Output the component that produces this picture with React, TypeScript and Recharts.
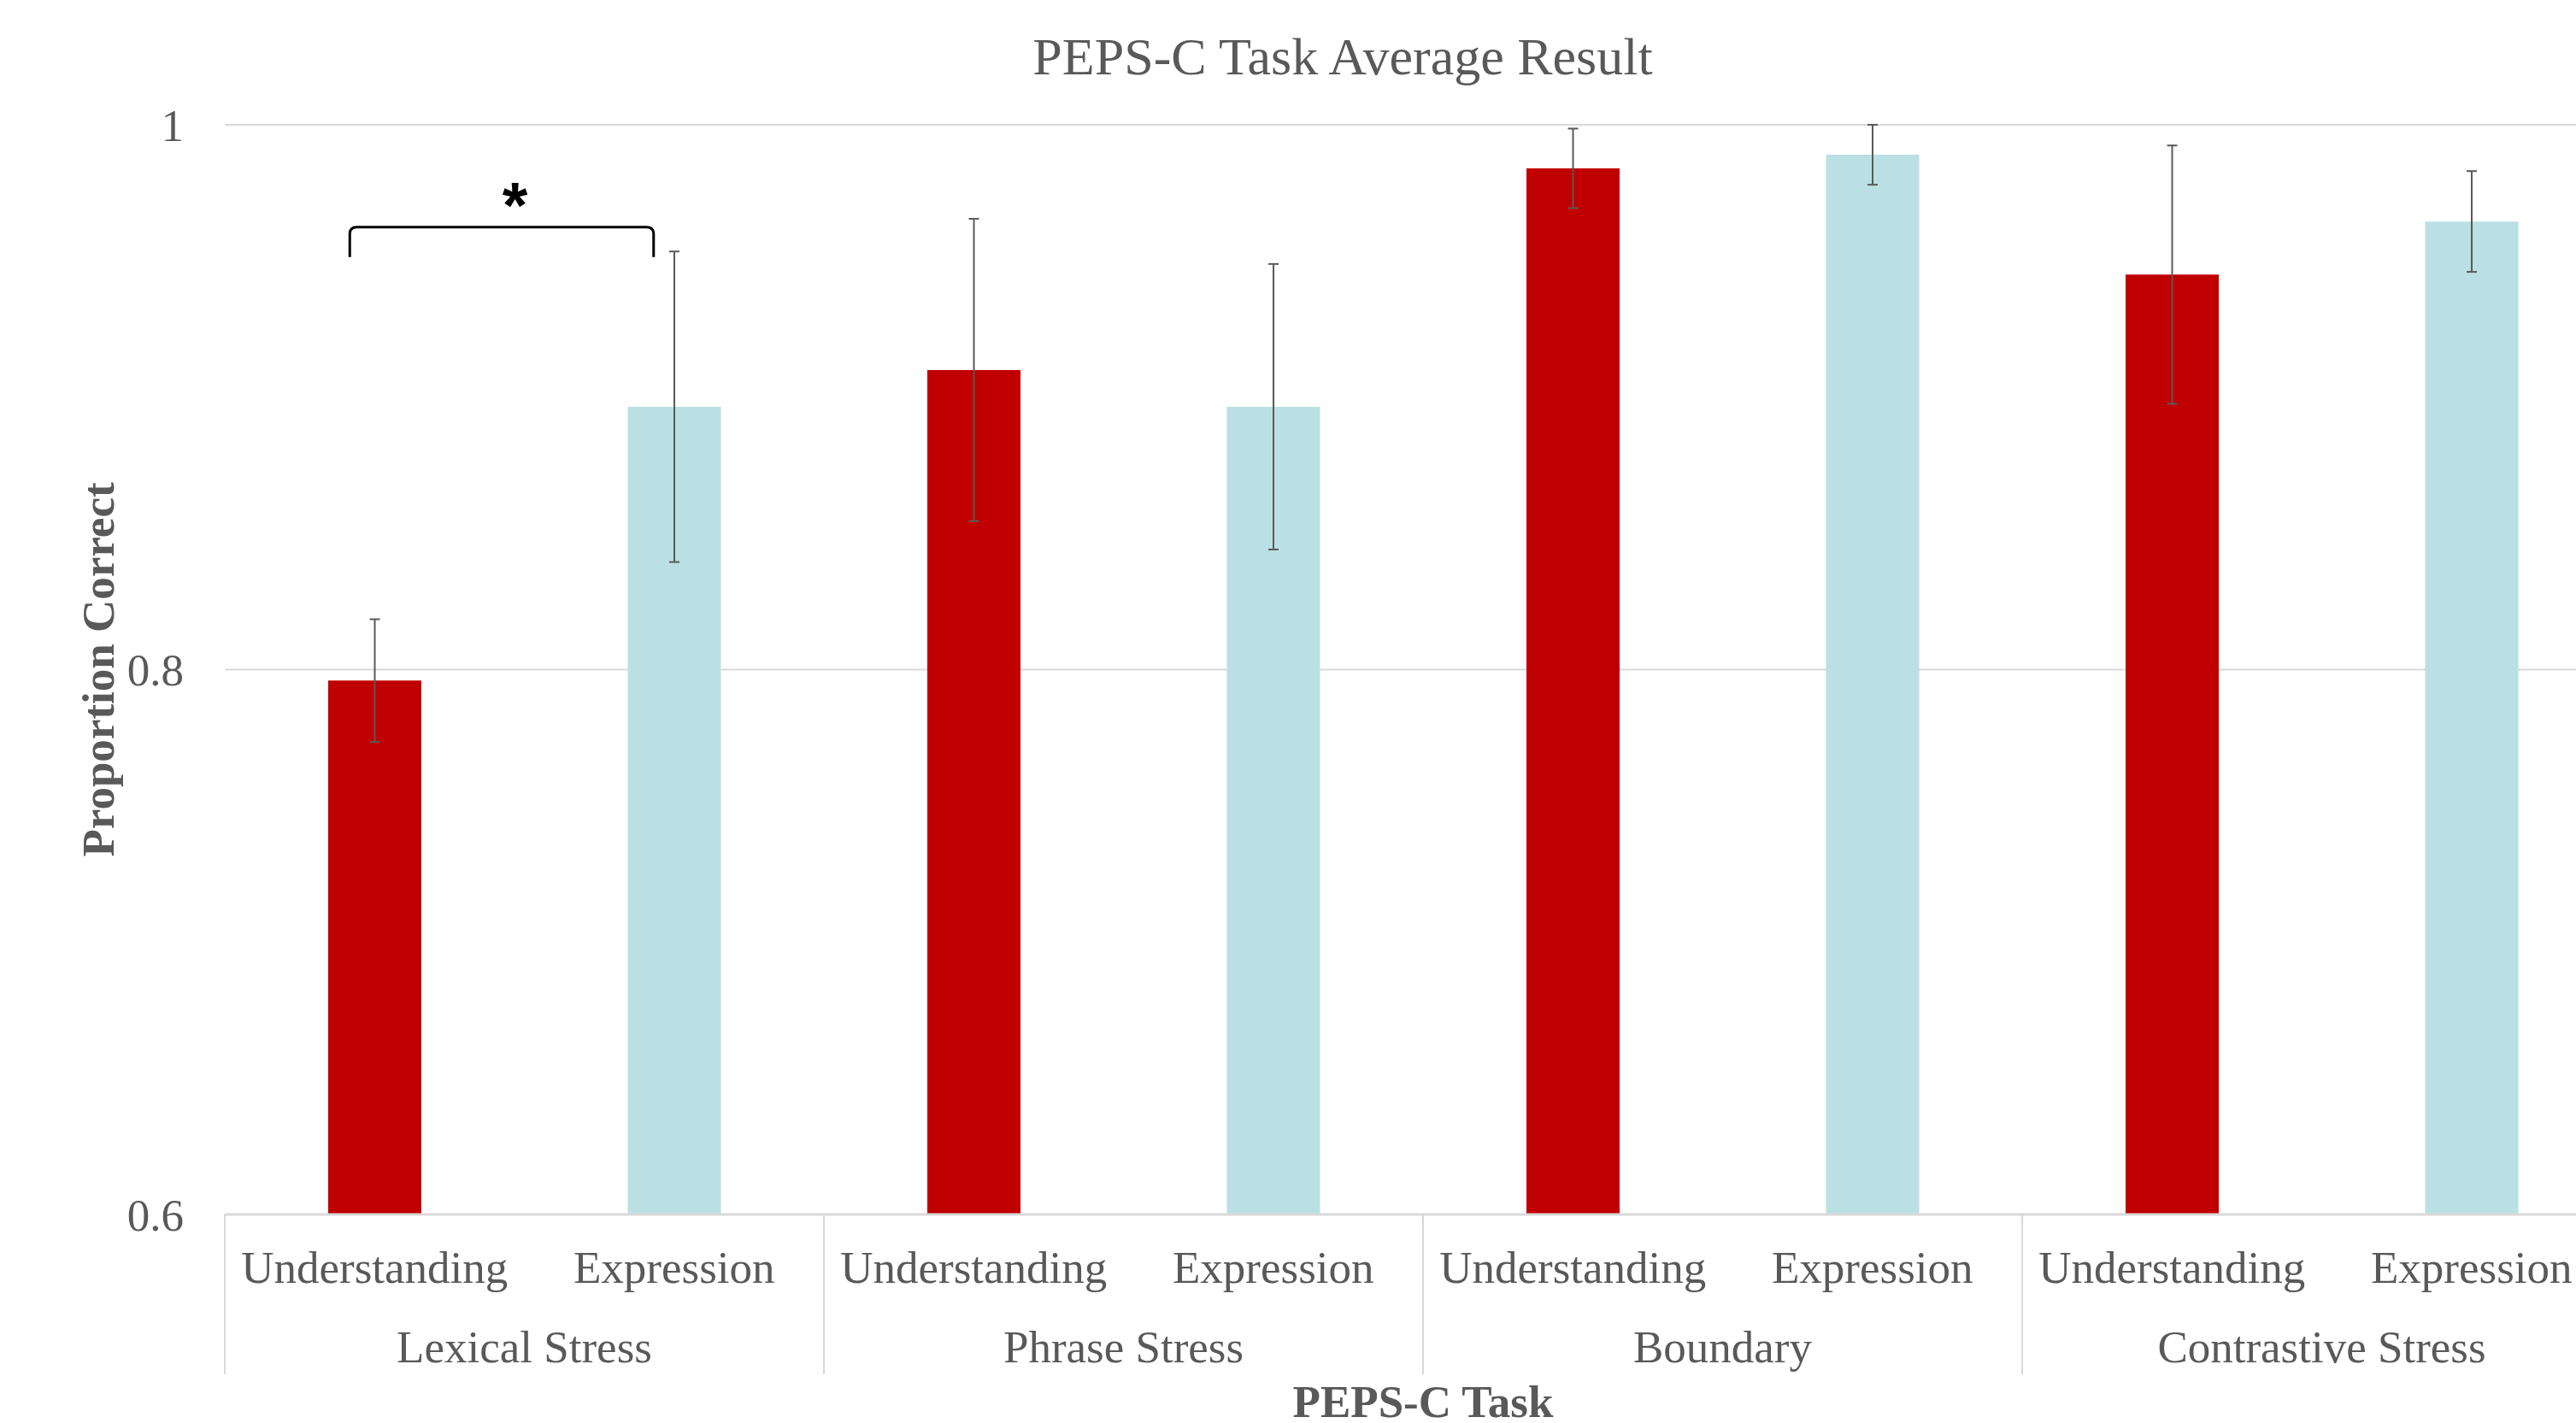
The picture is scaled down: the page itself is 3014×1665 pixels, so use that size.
import React from 'react';
import {
  BarChart,
  Bar,
  Cell,
  XAxis,
  YAxis,
  CartesianGrid,
  ErrorBar,
  ReferenceLine,
} from 'recharts';

const tasks = ['Lexical Stress', 'Phrase Stress', 'Boundary', 'Contrastive Stress'];
const conditions = ['Understanding', 'Expression'];
const understandingMeans = [0.796, 0.91, 0.984, 0.945];
const understandingErrors = [0.0225, 0.0555, 0.0146, 0.0474];
const expressionMeans = [0.8965, 0.8965, 0.989, 0.9645];
const expressionErrors = [0.057, 0.0524, 0.011, 0.0185];
const yTicks = [0.6, 0.8, 1];
const conditionColors = ['#C00000', '#BAE0E3'];

// significance bracket between the two Lexical Stress bars
const bracketLevel = 0.9624;
const bracketLabel = '*';

const data = tasks.flatMap((task, i) => [
  { key: `${task}|${conditions[0]}`, task, condition: conditions[0], value: understandingMeans[i], err: understandingErrors[i] },
  { key: `${task}|${conditions[1]}`, task, condition: conditions[1], value: expressionMeans[i], err: expressionErrors[i] },
]);

const FONT = '"Liberation Serif", "Times New Roman", serif';
const GREY = '#595959';

const CategoryTick = (props: any) => {
  const { x, y, payload, index } = props;
  const row = data[index] || data.find((d) => d.key === payload.value);
  const half = payload.offset ?? 175;
  const isFirst = row.condition === conditions[0];
  const isLast = index === data.length - 1;
  return (
    <g>
      <text x={x} y={y + 80} textAnchor="middle" fill={GREY} fontSize={53} fontFamily={FONT}>
        {row.condition}
      </text>
      {isFirst && (
        <>
          <line x1={x - half} y1={y} x2={x - half} y2={y + 187} stroke="#d9d9d9" strokeWidth={2} />
          <text x={x + half} y={y + 173} textAnchor="middle" fill={GREY} fontSize={53} fontFamily={FONT}>
            {row.task}
          </text>
        </>
      )}
      {isLast && <line x1={x + half} y1={y} x2={x + half} y2={y + 187} stroke="#d9d9d9" strokeWidth={2} />}
    </g>
  );
};

const Bracket = (props: any) => {
  const { x1, y1, x2 } = props;
  const xa = x1 - 29;
  const xb = x2 - 24;
  const drop = 35;
  const r = 8;
  const d = `M${xa},${y1 + drop} L${xa},${y1 + r} Q${xa},${y1} ${xa + r},${y1} L${xb - r},${y1} Q${xb},${y1} ${xb},${y1 + r} L${xb},${y1 + drop}`;
  return (
    <g>
      <path d={d} fill="none" stroke="#000" strokeWidth={3} />
      <text
        x={(x1 + x2) / 2 - 11}
        y={y1 - 26}
        textAnchor="middle"
        dominantBaseline="central"
        fontSize={76}
        fontWeight="bold"
        fontFamily='"Liberation Sans", Arial, sans-serif'
        fill="#000"
      >
        {bracketLabel}
      </text>
    </g>
  );
};

export default function App() {
  return (
    <div style={{ position: 'fixed', left: 0, top: 0, width: 3014, height: 1665, overflow: 'hidden', background: '#fff' }}>
      <BarChart
        width={3142}
        height={1665}
        data={data}
        margin={{ top: 146, right: 75, left: 0, bottom: 0 }}
      >
        <text
          x={1571}
          y={87}
          textAnchor="middle"
          fill={GREY}
          fontSize={62}
          fontFamily={FONT}
        >
          PEPS-C Task Average Result
        </text>
        <CartesianGrid horizontal vertical={false} stroke="#d9d9d9" strokeWidth={2} />
        <XAxis
          dataKey="key"
          interval={0}
          height={244}
          tickSize={0}
          tickMargin={0}
          tickLine={false}
          axisLine={{ stroke: '#d9d9d9', strokeWidth: 3 }}
          tick={<CategoryTick />}
          label={{
            value: 'PEPS-C Task',
            position: 'insideBottom',
            offset: 7,
            fill: GREY,
            fontSize: 53,
            fontWeight: 'bold',
            fontFamily: FONT,
          }}
        />
        <YAxis
          width={263}
          domain={[0.6, 1]}
          ticks={yTicks}
          allowDataOverflow
          axisLine={false}
          tickLine={false}
          tickSize={0}
          tickMargin={48}
          tick={{ fill: GREY, fontSize: 53, fontFamily: FONT }}
          tickFormatter={(v: number) => String(Number(v.toFixed(1)))}
          label={{
            content: (p: any) => {
              const vb = p.viewBox;
              const cx = vb.x + 115;
              const cy = vb.y + vb.height / 2;
              return (
                <text
                  x={cx}
                  y={cy}
                  transform={`rotate(-90 ${cx} ${cy})`}
                  textAnchor="middle"
                  dominantBaseline="central"
                  fill={GREY}
                  fontSize={53}
                  fontWeight="bold"
                  fontFamily={FONT}
                >
                  Proportion Correct
                </text>
              );
            },
          }}
        />
        <Bar dataKey="value" barSize={109} isAnimationActive={false}>
          {data.map((d) => (
            <Cell key={d.key} fill={conditionColors[conditions.indexOf(d.condition)]} />
          ))}
          <ErrorBar dataKey="err" width={6} stroke={GREY} strokeWidth={2} isAnimationActive={false} />
        </Bar>
        <ReferenceLine
          segment={[
            { x: data[0].key, y: bracketLevel },
            { x: data[1].key, y: bracketLevel },
          ]}
          ifOverflow="visible"
          shape={<Bracket />}
        />
      </BarChart>
    </div>
  );
}
